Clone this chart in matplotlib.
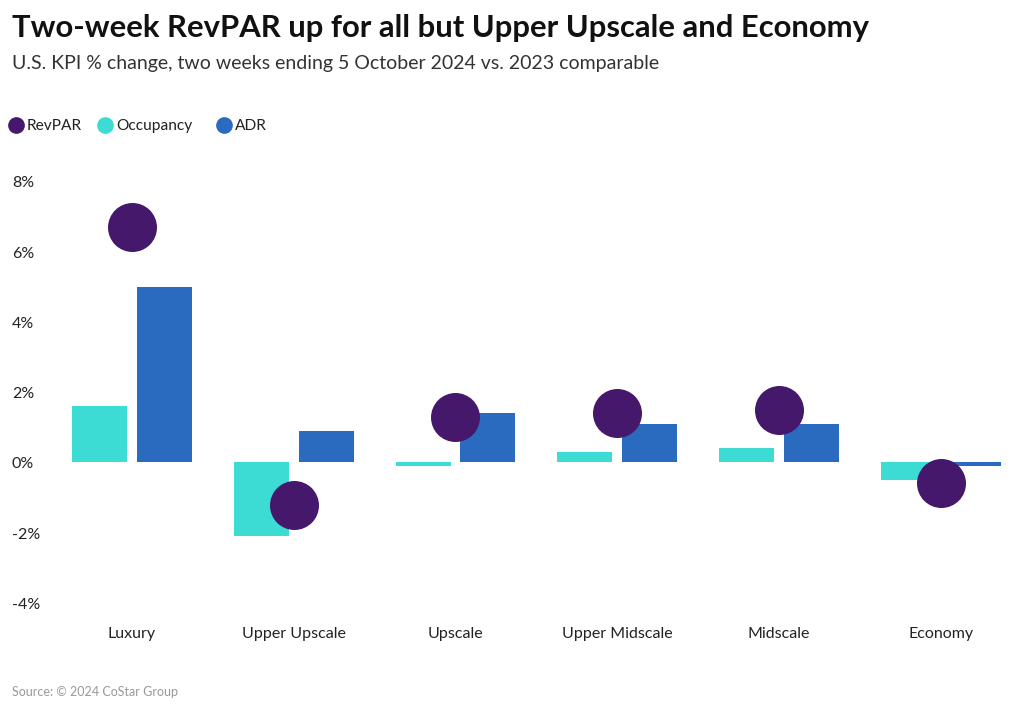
import matplotlib
matplotlib.use('Agg')
import matplotlib.pyplot as plt
import matplotlib.transforms as mtransforms
from matplotlib.lines import Line2D
import numpy as np

# chart data
categories = ['Luxury', 'Upper Upscale', 'Upscale', 'Upper Midscale', 'Midscale', 'Economy']
revpar = [6.7, -1.2, 1.3, 1.4, 1.5, -0.6]
occupancy = [1.6, -2.1, -0.1, 0.3, 0.4, -0.5]
adr = [5.0, 0.9, 1.4, 1.1, 1.1, -0.1]
series_names = ['RevPAR', 'Occupancy', 'ADR']
yticks = [-4, -2, 0, 2, 4, 6, 8]

Title = 'Two-week RevPAR up for all but Upper Upscale and Economy'
Subtitle = 'U.S. KPI % change, two weeks ending 5 October 2024 vs. 2023 comparable'
Source = 'Source: \u00a9 2024 CoStar Group'

c_revpar = '#46186b'
c_occ = '#3cdbd3'
c_adr = '#2a6bbf'

plt.rcParams['font.family'] = ['Lato', 'DejaVu Sans']

fig = plt.figure(figsize=(10.24, 7.08), dpi=100)
ax = fig.add_axes([0.0498, 0.1285, 0.948, 0.6356])

x = np.arange(len(categories))
w = 0.34
ax.bar(x - 0.2, occupancy, width=w, color=c_occ, zorder=2)
ax.bar(x + 0.2, adr, width=w, color=c_adr, zorder=2)
ax.scatter(x, revpar, s=1245, color=c_revpar, zorder=3, linewidths=0)

ax.set_xlim(-0.5, len(categories) - 0.5)
ax.set_ylim(-4.4, 8.4)
for s in ax.spines.values():
    s.set_visible(False)
ax.set_yticks([])
ax.set_xticks(x)
ax.set_xticklabels(categories, fontsize=11.5, color='#222222')
ax.tick_params(axis='x', length=0, pad=7.5)

# y labels flush left on the figure
trans = mtransforms.blended_transform_factory(fig.transFigure, ax.transData)
for t in yticks:
    ax.text(12 / 1024, t - 0.06, f'{t}%', transform=trans, ha='left', va='center',
            fontsize=11.5, color='#222222')

# titles
fig.text(12 / 1024, 1 - 28 / 708, Title, fontsize=22.3, weight='bold', va='center', color='#111111')
fig.text(12 / 1024, 1 - 63 / 708, Subtitle, fontsize=14, va='center', color='#333333')

# legend
legend_x = [16, 105, 224]
colors = [c_revpar, c_occ, c_adr]
for lx, name, c in zip(legend_x, series_names, colors):
    fig.add_artist(Line2D([lx / 1024], [1 - 125 / 708], marker='o', markersize=11,
                          color=c, linestyle='none', transform=fig.transFigure))
    fig.text((lx + 11) / 1024, 1 - 126 / 708, name, fontsize=11.2, va='center', color='#222222')

fig.text(12 / 1024, 1 - 692 / 708, Source, fontsize=9, va='center', color='#999999')

fig.savefig('out.png', dpi=100)
